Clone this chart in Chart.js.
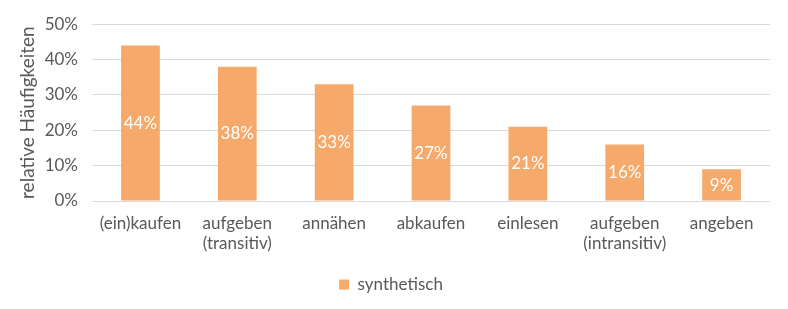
<!DOCTYPE html>
<html>
<head>
<meta charset="utf-8">
<script src="https://cdn.jsdelivr.net/npm/chart.js@4"></script>
<style>
  html, body { margin: 0; padding: 0; background: #fff; }
  #wrap { width: 788px; height: 309px; }
</style>
</head>
<body>
<div id="wrap"><canvas id="chart" width="788" height="309"></canvas></div>
<script>
// Chart data
const categories = [
    '(ein)kaufen',
    ['aufgeben', '(transitiv)'],
    'annähen',
    'abkaufen',
    'einlesen',
    ['aufgeben', '(intransitiv)'],
    'angeben'
];
const seriesName = 'synthetisch';
const synthetischValues = [44, 38, 33, 27, 21, 16, 9];

const BAR_COLOR = '#F5A96B';
const TEXT_COLOR = '#595959';
const GRID_COLOR = '#D9D9D9';
const FONT = 'Lato, "Open Sans", sans-serif';

// Draw the value labels in the middle of each bar
const barLabels = {
    id: 'barLabels',
    afterDatasetsDraw(chart) {
        const ctx = chart.ctx;
        const meta = chart.getDatasetMeta(0);
        const yScale = chart.scales.y;
        ctx.save();
        ctx.fillStyle = '#ffffff';
        ctx.font = '17px ' + FONT;
        ctx.textAlign = 'center';
        ctx.textBaseline = 'middle';
        meta.data.forEach((bar, i) => {
            const v = chart.data.datasets[0].data[i];
            const y = yScale.getPixelForValue(v / 2);
            ctx.fillText(v + '%', bar.x, y);
        });
        ctx.restore();
    }
};

Chart.defaults.font.family = FONT;
Chart.defaults.color = TEXT_COLOR;

new Chart(document.getElementById('chart').getContext('2d'), {
    type: 'bar',
    data: {
        labels: categories,
        datasets: [{
            label: seriesName,
            data: synthetischValues,
            backgroundColor: BAR_COLOR,
            borderWidth: 0,
            categoryPercentage: 1,
            barPercentage: 0.4
        }]
    },
    options: {
        responsive: false,
        animation: false,
        layout: { padding: { top: 10, right: 18, left: 12, bottom: 6 } },
        plugins: {
            tooltip: { enabled: false },
            legend: {
                position: 'bottom',
                labels: {
                    boxWidth: 10,
                    boxHeight: 10,
                    font: { size: 17 },
                    color: TEXT_COLOR,
                    padding: 10
                }
            }
        },
        scales: {
            x: {
                grid: { display: false },
                border: { display: false },
                ticks: {
                    font: { size: 17, lineHeight: 1.2 },
                    color: TEXT_COLOR,
                    maxRotation: 0,
                    padding: 4
                },
                afterFit(scale) { scale.height = 65; }
            },
            y: {
                min: 0,
                max: 50,
                ticks: {
                    stepSize: 10,
                    font: { size: 17 },
                    color: TEXT_COLOR,
                    padding: 14,
                    callback: v => v + '%'
                },
                grid: { color: GRID_COLOR, drawTicks: false },
                border: { display: false },
                title: {
                    display: true,
                    text: 'relative Häufigkeiten',
                    font: { size: 19 },
                    color: TEXT_COLOR,
                    padding: { bottom: 2 }
                },
                afterFit(scale) { scale.width = 80; }
            }
        }
    },
    plugins: [barLabels]
});
</script>
</body>
</html>
